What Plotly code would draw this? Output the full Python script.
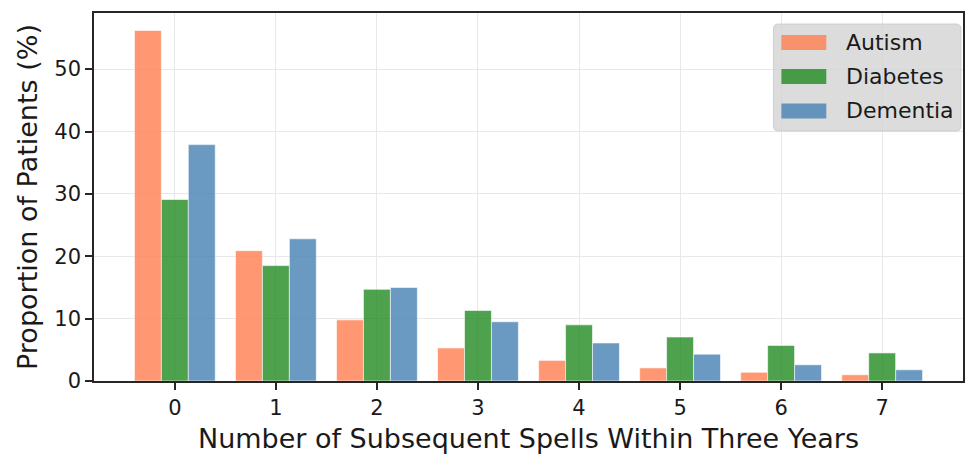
import plotly.graph_objects as go

# Number of subsequent spells (x categories)
spells = [0, 1, 2, 3, 4, 5, 6, 7]

# Proportion of patients (%) per condition
autism = [56.2, 20.9, 9.8, 5.3, 3.3, 2.1, 1.4, 1.0]
diabetes = [29.1, 18.5, 14.7, 11.3, 9.0, 7.05, 5.7, 4.5]
dementia = [37.9, 22.8, 15.0, 9.5, 6.1, 4.3, 2.6, 1.8]

series_names = ["Autism", "Diabetes", "Dementia"]
series_colors = ["#FF7F50", "#228B22", "#4682B4"]

FONT = "DejaVu Sans"
TEXT = "#1a1a1a"
W, H = 967, 455
ML, MR, MT, MB = 94, 2, 13, 74
PW, PH = W - ML - MR, H - MT - MB

fig = go.Figure()
for name, vals, col in zip(series_names, [autism, diabetes, dementia], series_colors):
    fig.add_trace(go.Bar(
        x=spells, y=vals, name=name,
        marker=dict(color=col, line=dict(color="white", width=0.6)),
        opacity=0.8, showlegend=False,
    ))


def px_x(px):
    return (px - ML) / PW


def px_y(py):
    return (H - MB - py) / PH


# Legend drawn as a rounded box with wide colour patches
x0, x1, y0, y1, r = 775, 963, 24, 131, 5
rx, ry = r / PW, r / PH
X0, X1, Y0, Y1 = px_x(x0), px_x(x1), px_y(y1), px_y(y0)
path = (
    f"M {X0+rx},{Y0} L {X1-rx},{Y0} Q {X1},{Y0} {X1},{Y0+ry} "
    f"L {X1},{Y1-ry} Q {X1},{Y1} {X1-rx},{Y1} "
    f"L {X0+rx},{Y1} Q {X0},{Y1} {X0},{Y1-ry} "
    f"L {X0},{Y0+ry} Q {X0},{Y0} {X0+rx},{Y0} Z"
)
shapes = [dict(type="path", path=path, xref="paper", yref="paper",
               fillcolor="rgba(211,211,211,0.8)",
               line=dict(color="rgba(200,200,200,0.8)", width=1), layer="above")]
annotations = []
row_centers = [42.5, 76.5, 111]
for name, col, cy in zip(series_names, series_colors, row_centers):
    shapes.append(dict(type="rect", xref="paper", yref="paper",
                       x0=px_x(783), x1=px_x(828), y0=px_y(cy + 7.5), y1=px_y(cy - 7.5),
                       fillcolor=col, opacity=0.8, line=dict(width=0), layer="above"))
    annotations.append(dict(text=name, xref="paper", yref="paper",
                            x=px_x(846), y=px_y(cy), xanchor="left", yanchor="middle",
                            showarrow=False, font=dict(family=FONT, size=22, color=TEXT)))

axis_common = dict(
    showline=True, mirror=True, linecolor="#262626", linewidth=1.6,
    ticks="outside", ticklen=7, tickwidth=1.5, tickcolor="#262626",
    showgrid=True, gridcolor="#E8E8E8", gridwidth=1.3,
    zeroline=False,
    tickfont=dict(family=FONT, size=21, color=TEXT),
)

fig.update_layout(
    width=W, height=H,
    margin=dict(l=ML, r=MR, t=MT, b=MB),
    paper_bgcolor="white", plot_bgcolor="white",
    barmode="group", bargap=0.2, bargroupgap=0,
    xaxis=dict(
        **axis_common, range=[-0.8, 7.8], tickmode="array", tickvals=spells,
        ticktext=[str(s) for s in spells],
        title=dict(text="Number of Subsequent Spells Within Three Years",
                   font=dict(family=FONT, size=27, color=TEXT), standoff=10),
    ),
    yaxis=dict(
        **axis_common, range=[0, 59], tickmode="linear", tick0=0, dtick=10,
        title=dict(text="Proportion of Patients (%)",
                   font=dict(family=FONT, size=27, color=TEXT), standoff=9),
    ),
    shapes=shapes, annotations=annotations,
)

fig.write_html("out.html")
